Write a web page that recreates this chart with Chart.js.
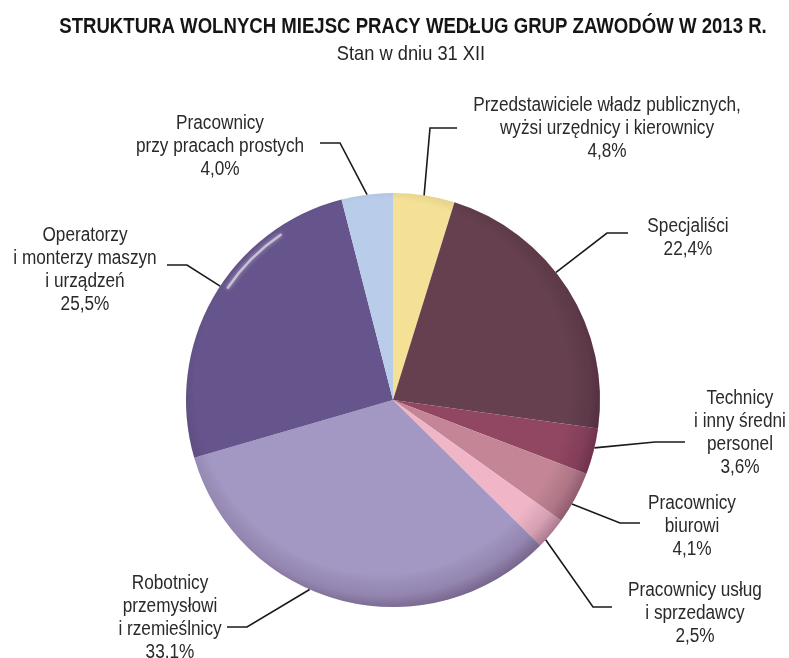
<!DOCTYPE html>
<html>
<head>
<meta charset="utf-8">
<script src="https://cdn.jsdelivr.net/npm/chart.js@4"></script>
<style>
html,body{margin:0;padding:0;background:#fff;}
canvas{display:block;}
</style>
</head>
<body>
<canvas id="c" width="789" height="658"></canvas>
<script>
// ---- data ----
const titleText = 'STRUKTURA WOLNYCH MIEJSC PRACY WEDŁUG GRUP ZAWODÓW W 2013 R.';
const subtitleText = 'Stan w dniu 31 XII';
const categories = [
  ['Przedstawiciele władz publicznych,', 'wyżsi urzędnicy i kierownicy'],
  ['Specjaliści'],
  ['Technicy', 'i inny średni', 'personel'],
  ['Pracownicy', 'biurowi'],
  ['Pracownicy usług', 'i sprzedawcy'],
  ['Robotnicy', 'przemysłowi', 'i rzemieślnicy'],
  ['Operatorzy', 'i monterzy maszyn', 'i urządzeń'],
  ['Pracownicy', 'przy pracach prostych']
];
const values = [4.8, 22.4, 3.6, 4.1, 2.5, 33.1, 25.5, 4.0];
const colors = ['#F4E196', '#66404F', '#914662', '#C48696', '#F0B6C8', '#A397C3', '#66558C', '#B9CDEB'];

// ---- label layout (positions only; anchor = where the leader meets the slice, as share of its arc) ----
const labelLayout = [
  {x: 607, y: 105, anchor: 0.5,  elbow: [430, 128], end: [457, 128]},
  {x: 688, y: 226, anchor: 0.43, elbow: [607, 233], end: [628, 233]},
  {x: 740, y: 398, anchor: 0.42, elbow: [655, 442], end: [685, 442]},
  {x: 692, y: 503, anchor: 0.63, elbow: [620, 523], end: [640, 523]},
  {x: 695, y: 590, anchor: 0.76, elbow: [593, 607], end: [612, 607]},
  {x: 170, y: 583, anchor: 0.58, elbow: [247, 627], end: [227, 627]},
  {x: 85,  y: 235, anchor: 0.54, elbow: [187, 265], end: [167, 265]},
  {x: 220, y: 123, anchor: 0.5,  elbow: [340, 143], end: [320, 143]}
];
const LINE_H = 23;
const FONT_FAMILY = '"Liberation Sans", Arial, sans-serif';
const NARROW = 0.86;

function fmt(v){ return v.toFixed(1).replace('.', ',') + '%'; }

function narrowText(ctx, text, x, y, sx){
  ctx.save();
  ctx.translate(x, y);
  ctx.scale(sx, 1);
  ctx.fillText(text, 0, 0);
  ctx.restore();
}

const shadePlugin = {
  id: 'shade',
  afterDatasetsDraw(chart){
    const arc = chart.getDatasetMeta(0).data[0];
    if(!arc) return;
    const ctx = chart.ctx;
    const cx = arc.x, cy = arc.y, r = arc.outerRadius;
    ctx.save();
    ctx.beginPath();
    ctx.arc(cx, cy, r, 0, Math.PI*2);
    ctx.clip();
    // darker rim, strongest at lower right
    let g = ctx.createRadialGradient(cx - r*0.1, cy - r*0.12, r*0.2, cx - r*0.04, cy - r*0.05, r*1.08);
    g.addColorStop(0, 'rgba(0,0,0,0)');
    g.addColorStop(0.80, 'rgba(0,0,0,0)');
    g.addColorStop(0.91, 'rgba(30,0,30,0.12)');
    g.addColorStop(1, 'rgba(30,0,30,0.38)');
    ctx.fillStyle = g;
    ctx.fillRect(cx - r, cy - r, 2*r, 2*r);
    // soft highlight on upper-left edge
    ctx.lineCap = 'round';
    ctx.shadowColor = 'rgba(255,255,255,0.9)';
    ctx.shadowBlur = 4;
    ctx.strokeStyle = 'rgba(255,255,255,0.55)';
    ctx.lineWidth = 2.5;
    ctx.beginPath();
    ctx.arc(cx, cy, r*0.965, Math.PI*1.19, Math.PI*1.31);
    ctx.stroke();
    ctx.restore();
  }
};

const textPlugin = {
  id: 'texts',
  afterDraw(chart){
    const ctx = chart.ctx;
    const meta = chart.getDatasetMeta(0);
    ctx.save();
    ctx.textAlign = 'center';
    ctx.textBaseline = 'middle';
    // titles
    ctx.fillStyle = '#151515';
    ctx.font = 'bold 22px ' + FONT_FAMILY;
    narrowText(ctx, titleText, 413, 27, 0.845);
    ctx.fillStyle = '#252525';
    ctx.font = '21px ' + FONT_FAMILY;
    narrowText(ctx, subtitleText, 411, 54, 0.87);

    // labels and leaders
    meta.data.forEach((arc, i) => {
      const L = labelLayout[i];
      const a = arc.startAngle + (arc.endAngle - arc.startAngle) * L.anchor;
      const sx = arc.x + Math.cos(a) * arc.outerRadius;
      const sy = arc.y + Math.sin(a) * arc.outerRadius;
      ctx.strokeStyle = '#1a1a1a';
      ctx.lineWidth = 1.6;
      ctx.beginPath();
      ctx.moveTo(sx, sy);
      ctx.lineTo(L.elbow[0], L.elbow[1]);
      ctx.lineTo(L.end[0], L.end[1]);
      ctx.stroke();

      const lines = categories[i].concat([fmt(values[i])]);
      ctx.fillStyle = '#2a2a2a';
      ctx.font = '20px ' + FONT_FAMILY;
      lines.forEach((t, k) => narrowText(ctx, t, L.x, L.y + k*LINE_H, NARROW));
    });
    ctx.restore();
  }
};

new Chart(document.getElementById('c'), {
  type: 'pie',
  data: {
    labels: categories.map(c => c.join(' ')),
    datasets: [{
      data: values,
      backgroundColor: colors,
      borderWidth: 0
    }]
  },
  options: {
    responsive: false,
    animation: false,
    layout: {padding: {left: 186, right: 189, top: 193, bottom: 51}},
    plugins: {legend: {display: false}, tooltip: {enabled: false}}
  },
  plugins: [shadePlugin, textPlugin]
});
</script>
</body>
</html>
